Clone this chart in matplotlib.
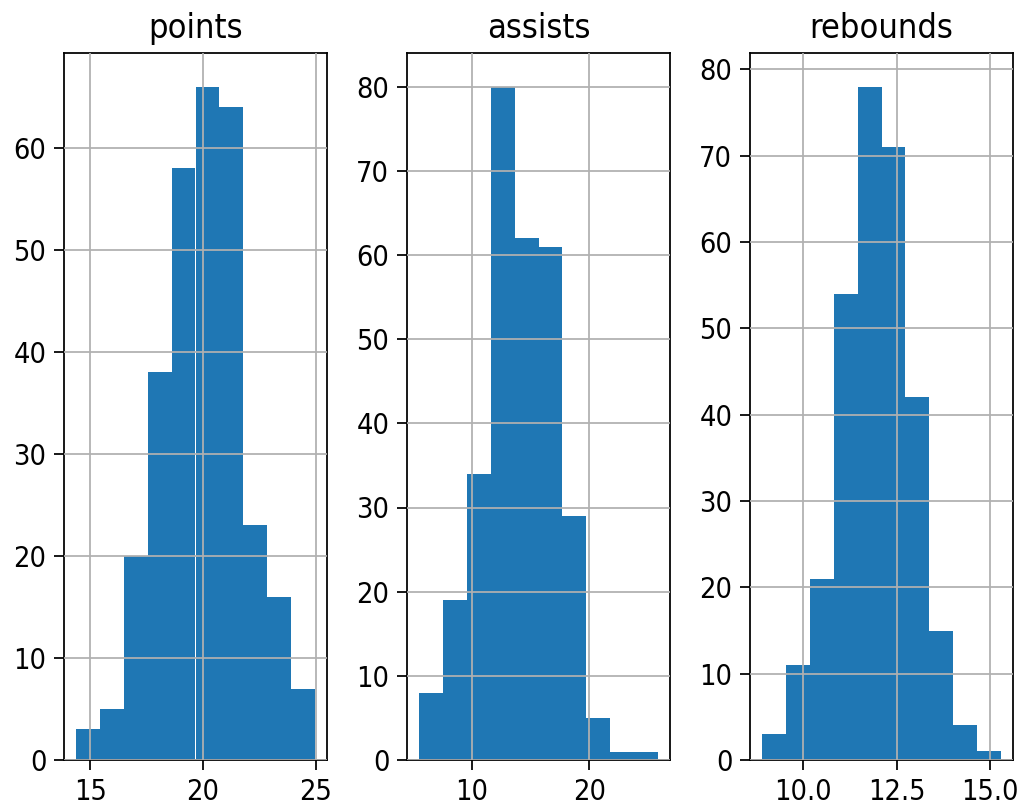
import numpy as np
import matplotlib.pyplot as plt

# histogram counts per column (10 bins each) and the data range they span
columns = ["points", "assists", "rebounds"]
points_counts = [3, 5, 20, 38, 58, 66, 64, 23, 16, 7]
assists_counts = [8, 19, 34, 80, 62, 61, 29, 5, 1, 1]
rebounds_counts = [3, 11, 21, 54, 78, 71, 42, 15, 4, 1]
points_range = (14.37, 24.96)
assists_range = (5.47, 25.87)
rebounds_range = (8.90, 15.29)

counts = [points_counts, assists_counts, rebounds_counts]
ranges = [points_range, assists_range, rebounds_range]

plt.rcParams['font.family'] = ['DejaVu Sans']
plt.rcParams['font.stretch'] = 'condensed'
plt.rcParams['font.size'] = 13

dpi = 159
fig = plt.figure(figsize=(1017 / dpi, 807 / dpi), dpi=dpi)

lefts = [64, 407, 750]
width = 263
top, bottom = 53, 760
for name, cnt, (lo, hi), left in zip(columns, counts, ranges, lefts):
    ax = fig.add_axes([left / 1017, (807 - bottom) / 807, width / 1017, (bottom - top) / 807])
    edges = np.linspace(lo, hi, len(cnt) + 1)
    ax.hist(edges[:-1], bins=edges, weights=cnt, color="#1f77b4")
    ax.set_title(name, fontsize=15.5, pad=7)
    ax.tick_params(labelsize=13, length=4.5)
    ax.grid(True)
    ax.set_axisbelow(False)

fig.savefig("out.png", dpi=dpi)
